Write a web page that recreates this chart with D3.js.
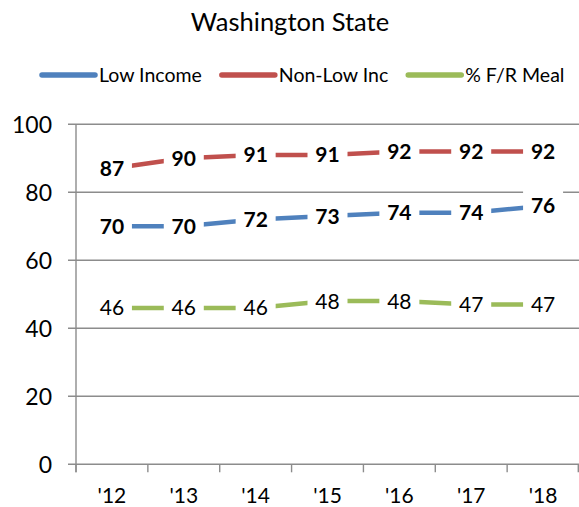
<!DOCTYPE html>
<html>
<head>
<meta charset="utf-8">
<script src="https://cdn.jsdelivr.net/npm/d3@7"></script>
<style>
  html, body { margin: 0; padding: 0; background: #fff; }
  svg { display: block; font-family: "Lato", "Open Sans", sans-serif; }
</style>
</head>
<body>
<svg id="chart" width="579" height="507"></svg>
<script>
// School years on the category axis
const years = ["'12", "'13", "'14", "'15", "'16", "'17", "'18"];

// Series values (percent)
const lowIncome    = [70, 70, 72, 73, 74, 74, 76];
const nonLowIncome = [87, 90, 91, 91, 92, 92, 92];
const frMeal       = [46, 46, 46, 48, 48, 47, 47];

// Value axis ticks
const yTicks = [0, 20, 40, 60, 80, 100];

const seriesNames  = ["Low Income", "Non-Low Inc", "% F/R Meal"];
const seriesColors = ["#4F81BD", "#C0504D", "#9BBB59"];
const seriesBold   = [true, true, false];

const series = [lowIncome, nonLowIncome, frMeal].map((vals, i) => ({
  name: seriesNames[i], color: seriesColors[i], bold: seriesBold[i], values: vals
}));

const W = 579, H = 507;
const plot = { left: 76, right: 579, top: 124.3, bottom: 464.3 };

const svg = d3.select("#chart");

const x = d3.scaleBand().domain(years).range([plot.left, plot.right]).padding(0);
const y = d3.scaleLinear().domain([0, 100]).range([plot.bottom, plot.top]);
const cx = d => x(d) + x.bandwidth() / 2;

const gridColor = "#8c8c8c";

// Title
svg.append("text")
  .attr("x", 290).attr("y", 31)
  .attr("text-anchor", "middle")
  .attr("font-size", 25.5)
  .attr("fill", "#000")
  .text("Washington State");

// Legend
const legend = svg.append("g");
let lx = 42;
series.forEach(s => {
  legend.append("line")
    .attr("x1", lx).attr("x2", lx + 53)
    .attr("y1", 75).attr("y2", 75)
    .attr("stroke", s.color).attr("stroke-width", 5.5)
    .attr("stroke-linecap", "round");
  const t = legend.append("text")
    .attr("x", lx + 57).attr("y", 82)
    .attr("font-size", 19.5).attr("fill", "#000")
    .text(s.name);
  lx += 57 + t.node().getComputedTextLength() + 20;
});

// Horizontal gridlines, extending left through the tick marks
svg.append("g").selectAll("line")
  .data(yTicks)
  .join("line")
  .attr("x1", plot.left - 8).attr("x2", plot.right)
  .attr("y1", d => y(d)).attr("y2", d => y(d))
  .attr("stroke", gridColor).attr("stroke-width", 1.4);

// Value axis line
svg.append("line")
  .attr("x1", plot.left).attr("x2", plot.left)
  .attr("y1", y(100)).attr("y2", y(0) + 8)
  .attr("stroke", gridColor).attr("stroke-width", 1.4);

// Value axis labels
svg.append("g").selectAll("text")
  .data(yTicks)
  .join("text")
  .attr("x", 52).attr("y", d => y(d))
  .attr("dy", "0.36em")
  .attr("text-anchor", "end")
  .attr("font-size", 23).attr("fill", "#000")
  .text(d => d);

// Category tick marks at band boundaries
const boundaries = years.map(d => x(d)).concat([plot.right - 0.7]);
svg.append("g").selectAll("line")
  .data(boundaries)
  .join("line")
  .attr("x1", d => d).attr("x2", d => d)
  .attr("y1", y(0)).attr("y2", y(0) + 8)
  .attr("stroke", gridColor).attr("stroke-width", 1.4);

// Category labels
svg.append("g").selectAll("text")
  .data(years)
  .join("text")
  .attr("x", d => cx(d)).attr("y", 503)
  .attr("text-anchor", "middle")
  .attr("font-size", 21).attr("fill", "#000")
  .text(d => d);

// Series lines
const line = d3.line()
  .x((v, i) => cx(years[i]))
  .y(v => y(v));

svg.append("g").selectAll("path")
  .data(series)
  .join("path")
  .attr("d", s => line(s.values))
  .attr("fill", "none")
  .attr("stroke", s => s.color)
  .attr("stroke-width", 4.5)
  .attr("stroke-linejoin", "round");

// Data labels on white boxes centred on each point
const labelG = svg.append("g");
series.forEach(s => {
  s.values.forEach((v, i) => {
    const px = cx(years[i]), py = y(v);
    labelG.append("rect")
      .attr("x", px - 20).attr("y", py - 18)
      .attr("width", 40).attr("height", 36)
      .attr("fill", "#fff");
    labelG.append("text")
      .attr("x", px).attr("y", py)
      .attr("dy", "0.36em")
      .attr("text-anchor", "middle")
      .attr("font-size", 21)
      .attr("font-weight", s.bold ? "bold" : "normal")
      .attr("fill", "#000")
      .text(v);
  });
});
</script>
</body>
</html>
